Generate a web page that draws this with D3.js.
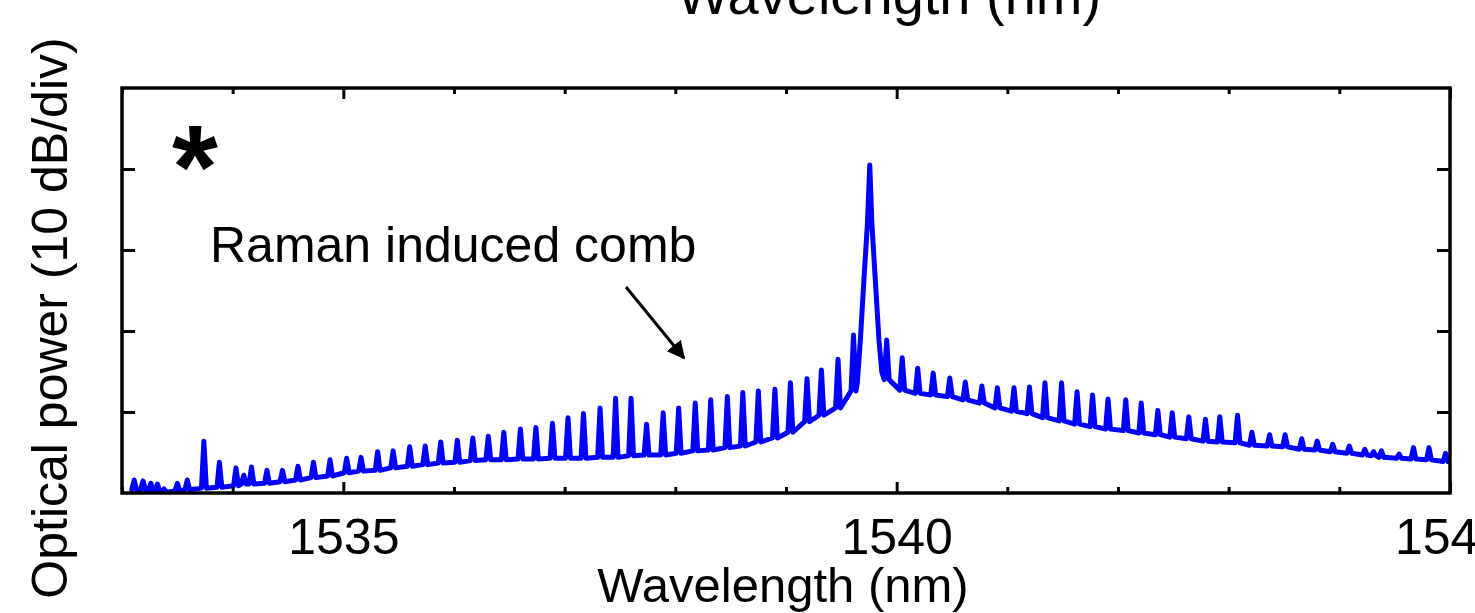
<!DOCTYPE html>
<html>
<head>
<meta charset="utf-8">
<script src="https://cdn.jsdelivr.net/npm/d3@7"></script>
<style>
  html, body { margin: 0; padding: 0; background: #fff; }
  svg { display: block; }
  text { font-family: "Liberation Sans", Arial, sans-serif; fill: #000; }
</style>
</head>
<body>
<svg id="chart" width="1475" height="613"></svg>
<script>
// ---- data ----
// comb line wavelengths (nm)
const combNm = [
  1533.11, 1533.19, 1533.26, 1533.32, 1533.38, 1533.50, 1533.59, 1533.74, 1533.88, 1534.03,
  1534.10, 1534.17, 1534.31, 1534.45, 1534.59, 1534.73, 1534.88, 1535.03, 1535.16, 1535.31,
  1535.45, 1535.60, 1535.74, 1535.88, 1536.03, 1536.17, 1536.31, 1536.45, 1536.60, 1536.74,
  1536.89, 1537.03, 1537.17, 1537.32, 1537.46, 1537.60, 1537.74, 1537.89, 1538.03, 1538.18,
  1538.32, 1538.47, 1538.61, 1538.75, 1538.90, 1539.04, 1539.19, 1539.32, 1539.47, 1539.61,
  1539.91, 1540.05, 1540.19, 1540.33, 1540.48, 1540.62, 1540.77, 1540.91, 1541.06, 1541.20,
  1541.34, 1541.49, 1541.63, 1541.77, 1541.91, 1542.07, 1542.21, 1542.36, 1542.49, 1542.64,
  1542.79, 1542.92, 1543.08, 1543.21, 1543.37, 1543.51, 1543.66, 1543.80, 1543.94, 1544.09,
  1544.23, 1544.31, 1544.38, 1544.54, 1544.67, 1544.81, 1544.96
];
// peak level of each comb line (dB above the bottom of the frame)
const peakDb = [
  1.6, 1.5, 1.2, 1.1, 0.5, 1.2, 1.6, 6.4, 3.8, 3.1,
  2.2, 3.2, 2.8, 2.8, 3.3, 3.8, 4.1, 4.3, 4.4, 5.1,
  5.2, 5.7, 5.8, 6.3, 6.5, 6.8, 7.0, 7.5, 7.9, 8.1,
  8.6, 9.3, 9.8, 10.5, 11.7, 11.7, 8.5, 9.9, 10.5, 11.1,
  11.5, 11.9, 12.4, 12.6, 12.8, 13.6, 14.1, 15.2, 16.5, 19.5,
  18.9, 16.7, 15.4, 14.8, 14.2, 13.7, 13.2, 13.0, 13.0, 13.1,
  13.6, 13.6, 12.5, 12.1, 11.6, 11.5, 11.1, 10.2, 9.9, 9.4,
  9.1, 9.4, 9.6, 7.5, 7.2, 7.2, 6.7, 6.4, 6.0, 5.8,
  5.4, 5.1, 5.2, 4.8, 5.6, 5.6, 4.9
];
// background floor under each comb line (dB)
const floorDb = [
  0.4, 0.4, 0.25, 0.25, 0.1, 0.25, 0.4, 0.6, 0.7, 0.9,
  1.1, 1.1, 1.2, 1.4, 1.6, 1.9, 2.1, 2.5, 2.7, 2.8,
  3.1, 3.3, 3.5, 3.7, 3.8, 4.0, 4.1, 4.1, 4.2, 4.2,
  4.3, 4.3, 4.3, 4.4, 4.4, 4.6, 4.7, 4.7, 4.9, 5.2,
  5.3, 5.6, 5.8, 6.3, 6.8, 7.5, 8.8, 9.6, 10.5, 12.6,
  14.0, 12.7, 12.3, 12.1, 11.9, 11.5, 11.1, 10.5, 10.1, 9.8,
  9.3, 8.9, 8.5, 8.2, 7.9, 7.7, 7.4, 7.2, 6.9, 6.7,
  6.4, 6.3, 6.2, 5.9, 5.8, 5.7, 5.4, 5.3, 5.1, 4.9,
  4.7, 4.6, 4.4, 4.3, 4.2, 4.1, 3.9
];
// pump line profile (nm, dB)
const pumpNm = [1539.645, 1539.672, 1539.708, 1539.736, 1539.757, 1539.776, 1539.803, 1539.840, 1539.866];
const pumpDb = [13.6, 18.9, 27.2, 33.3, 40.5, 33.3, 27.2, 18.9, 14.9];

// axis ticks
const majorTicks = [1535, 1540, 1545];
const minorTicks = [1533, 1534, 1536, 1537, 1538, 1539, 1541, 1542, 1543, 1544];
const yTicks = [10, 20, 30, 40];

// ---- layout ----
const m = { left: 122, right: 1450, top: 88, bottom: 493 };
const svg = d3.select("#chart");

const x = d3.scaleLinear().domain([1533, 1545]).range([m.left, m.right]);
const y = d3.scaleLinear().domain([0, 50]).range([m.bottom, m.top]);

const defs = svg.append("defs");
defs.append("clipPath").attr("id", "plotclip")
  .append("rect").attr("x", m.left).attr("y", m.top)
  .attr("width", m.right - m.left).attr("height", m.bottom - m.top);

// ---- trace ----
const halfW = 0.022; // half width of a comb line base (nm)
const pts = [];
let pumpDone = false;
combNm.forEach((nm, i) => {
  if (!pumpDone && nm > pumpNm[0]) {
    pumpNm.forEach((p, j) => pts.push([p, pumpDb[j]]));
    pumpDone = true;
  }
  pts.push([nm - halfW, floorDb[i]]);
  pts.push([nm, peakDb[i]]);
  pts.push([nm + halfW, floorDb[i]]);
});

const line = d3.line().x(d => x(d[0])).y(d => y(d[1]));
svg.append("path")
  .attr("d", line(pts))
  .attr("clip-path", "url(#plotclip)")
  .attr("fill", "none")
  .attr("stroke", "#0000ff")
  .attr("stroke-width", 5)
  .attr("stroke-linejoin", "round")
  .attr("stroke-linecap", "round");

// ---- axes ----
function styleAxis(g) {
  g.select(".domain").remove();
  g.selectAll(".tick line").attr("stroke", "#000").attr("stroke-width", 3);
}
svg.append("g").attr("transform", `translate(0,${m.bottom})`)
  .call(d3.axisBottom(x).tickValues(minorTicks).tickSize(-6).tickFormat(""))
  .call(styleAxis);
svg.append("g").attr("transform", `translate(0,${m.bottom})`)
  .call(d3.axisBottom(x).tickValues(majorTicks).tickSize(-11).tickPadding(25).tickFormat(d3.format("d")))
  .call(styleAxis)
  .call(g => g.selectAll("text").attr("font-size", 50).attr("font-family", "Liberation Sans, Arial, sans-serif"));
svg.append("g").attr("transform", `translate(0,${m.top})`)
  .call(d3.axisTop(x).tickValues(minorTicks).tickSize(-6).tickFormat(""))
  .call(styleAxis);
svg.append("g").attr("transform", `translate(0,${m.top})`)
  .call(d3.axisTop(x).tickValues(majorTicks).tickSize(-11).tickFormat(""))
  .call(styleAxis);
svg.append("g").attr("transform", `translate(${m.left},0)`)
  .call(d3.axisLeft(y).tickValues(yTicks).tickSize(-13).tickFormat(""))
  .call(styleAxis);
svg.append("g").attr("transform", `translate(${m.right},0)`)
  .call(d3.axisRight(y).tickValues(yTicks).tickSize(-13).tickFormat(""))
  .call(styleAxis);

// frame
svg.append("rect")
  .attr("x", m.left).attr("y", m.top)
  .attr("width", m.right - m.left).attr("height", m.bottom - m.top)
  .attr("fill", "none").attr("stroke", "#000").attr("stroke-width", 3.5);

// ---- labels ----
svg.append("text").attr("x", 783).attr("y", 602)
  .attr("text-anchor", "middle").attr("font-size", 49).text("Wavelength (nm)");
// clipped label of the panel above
svg.append("text").attr("x", 889).attr("y", 14)
  .attr("text-anchor", "middle").attr("font-size", 56).text("Wavelength (nm)");
svg.append("text")
  .attr("transform", "translate(67,318) rotate(-90)")
  .attr("text-anchor", "middle").attr("font-size", 50).text("Optical power (10 dB/div)");

// annotations
svg.append("text").attr("x", 210).attr("y", 262).attr("font-size", 50).text("Raman induced comb");
svg.append("text").attr("x", 195).attr("y", 208).attr("text-anchor", "middle")
  .attr("font-family", "DejaVu Sans, sans-serif")
  .attr("font-size", 118).attr("font-weight", "bold").text("*");

defs.append("marker").attr("id", "arrowhead")
  .attr("viewBox", "0 0 10 10").attr("refX", 9).attr("refY", 5)
  .attr("markerWidth", 6).attr("markerHeight", 6).attr("orient", "auto")
  .append("path").attr("d", "M0,0 L10,5 L0,10 z").attr("fill", "#000");
svg.append("line").attr("x1", 626).attr("y1", 287).attr("x2", 684).attr("y2", 358)
  .attr("stroke", "#000").attr("stroke-width", 3).attr("marker-end", "url(#arrowhead)");
</script>
</body>
</html>
